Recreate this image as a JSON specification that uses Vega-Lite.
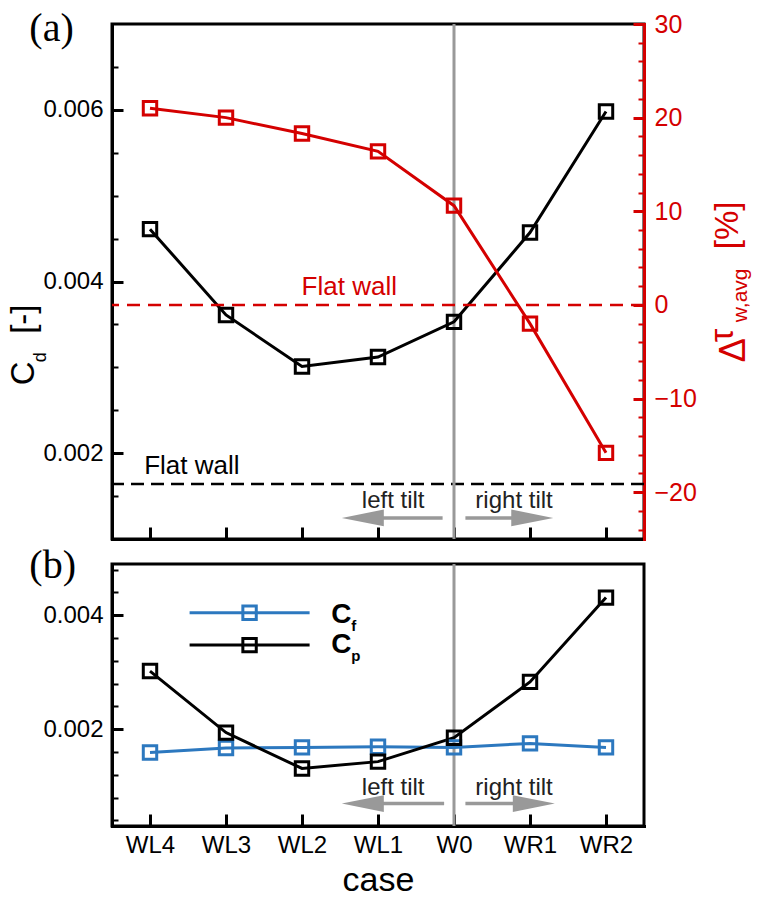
{
  "$schema": "https://vega.github.io/schema/vega-lite/v6.json",
  "padding": {"left": 6, "top": 7, "right": 0, "bottom": 0},
  "background": "white",
  "spacing": -1,
  "config": {
    "view": {"stroke": "black", "strokeWidth": 3},
    "font": "Liberation Sans",
    "axis": {"grid": false, "domainColor": "black", "domainWidth": 3, "tickColor": "black", "labelFont": "Liberation Sans", "labelFontSize": 24, "labelColor": "black", "labelFlush": false, "labelOverlap": false, "tickCap": "butt", "domainCap": "square"}
  },
  "datasets": {
    "top": [
      {"case": "WL4", "i": 0, "Cd": 0.00461, "dtau": 21.0},
      {"case": "WL3", "i": 1, "Cd": 0.00361, "dtau": 20.0},
      {"case": "WL2", "i": 2, "Cd": 0.00301, "dtau": 18.3},
      {"case": "WL1", "i": 3, "Cd": 0.00312, "dtau": 16.4},
      {"case": "W0", "i": 4, "Cd": 0.00353, "dtau": 10.6},
      {"case": "WR1", "i": 5, "Cd": 0.00457, "dtau": -2.0},
      {"case": "WR2", "i": 6, "Cd": 0.00598, "dtau": -15.8}
    ],
    "bottom": [
      {"case": "WL4", "i": 0, "series": "Cf", "value": 0.00159},
      {"case": "WL3", "i": 1, "series": "Cf", "value": 0.00167},
      {"case": "WL2", "i": 2, "series": "Cf", "value": 0.00168},
      {"case": "WL1", "i": 3, "series": "Cf", "value": 0.00169},
      {"case": "W0", "i": 4, "series": "Cf", "value": 0.00168},
      {"case": "WR1", "i": 5, "series": "Cf", "value": 0.00175},
      {"case": "WR2", "i": 6, "series": "Cf", "value": 0.00168},
      {"case": "WL4", "i": 0, "series": "Cp", "value": 0.00302},
      {"case": "WL3", "i": 1, "series": "Cp", "value": 0.00194},
      {"case": "WL2", "i": 2, "series": "Cp", "value": 0.00131},
      {"case": "WL1", "i": 3, "series": "Cp", "value": 0.00143},
      {"case": "W0", "i": 4, "series": "Cp", "value": 0.00185},
      {"case": "WR1", "i": 5, "series": "Cp", "value": 0.00283},
      {"case": "WR2", "i": 6, "series": "Cp", "value": 0.00431}
    ],
    "one": [{}]
  },
  "vconcat": [
    {
      "width": 532,
      "height": 515,
      "resolve": {"scale": {"y": "independent"}, "axis": {"y": "independent"}},
      "layer": [
        {
          "layer": [
            {"data": {"name": "one"}, "mark": {"type": "rule", "color": "black", "strokeWidth": 2.5, "strokeDash": [13, 7]},
             "encoding": {"y": {"datum": 0.00164, "type": "quantitative"}}},
            {"data": {"name": "one"}, "mark": {"type": "rule", "color": "#999999", "strokeWidth": 3},
             "encoding": {"x": {"datum": 4, "type": "quantitative"}}},
            {"data": {"name": "one"}, "mark": {"type": "rule", "color": "#999999", "strokeWidth": 3.5},
             "encoding": {"x": {"datum": 3.85, "type": "quantitative"}, "x2": {"datum": 2.8}, "y": {"datum": 0.001245, "type": "quantitative"}}},
            {"data": {"name": "one"}, "mark": {"type": "rule", "color": "#999999", "strokeWidth": 3.5},
             "encoding": {"x": {"datum": 4.15, "type": "quantitative"}, "x2": {"datum": 5.03}, "y": {"datum": 0.001245, "type": "quantitative"}}},
            {"data": {"name": "one"}, "mark": {"type": "point", "shape": "M-1,0L1,-0.4L1,0.4Z", "size": 1764, "filled": true, "color": "#999999", "opacity": 1, "strokeWidth": 0},
             "encoding": {"x": {"datum": 2.8, "type": "quantitative"}, "y": {"datum": 0.001245, "type": "quantitative"}}},
            {"data": {"name": "one"}, "mark": {"type": "point", "shape": "M1,0L-1,-0.4L-1,0.4Z", "size": 1764, "filled": true, "color": "#999999", "opacity": 1, "strokeWidth": 0},
             "encoding": {"x": {"datum": 5.03, "type": "quantitative"}, "y": {"datum": 0.001245, "type": "quantitative"}}},
            {"data": {"name": "one"}, "mark": {"type": "text", "text": "left tilt", "fontSize": 24, "color": "#222222", "align": "center", "baseline": "alphabetic"},
             "encoding": {"x": {"datum": 3.2, "type": "quantitative"}, "y": {"datum": 0.001358, "type": "quantitative"}}},
            {"data": {"name": "one"}, "mark": {"type": "text", "text": "right tilt", "fontSize": 24, "color": "#222222", "align": "center", "baseline": "alphabetic"},
             "encoding": {"x": {"datum": 4.79, "type": "quantitative"}, "y": {"datum": 0.001358, "type": "quantitative"}}},
            {"data": {"name": "one"}, "mark": {"type": "text", "text": "Flat wall", "fontSize": 26, "color": "black", "align": "center", "baseline": "alphabetic"},
             "encoding": {"x": {"datum": 0.55, "type": "quantitative"}, "y": {"datum": 0.001758, "type": "quantitative"}}},
            {"data": {"name": "one"}, "mark": {"type": "text", "text": "(a)", "font": "Liberation Serif", "fontSize": 40, "color": "black", "align": "left", "baseline": "alphabetic"},
             "encoding": {"x": {"datum": -1.588, "type": "quantitative"}, "y": {"datum": 0.006802, "type": "quantitative"}}},
            {"data": {"name": "one"}, "mark": {"type": "text", "text": "C", "fontSize": 33, "color": "black", "align": "left", "baseline": "alphabetic", "angle": 270},
             "encoding": {"x": {"datum": -1.522, "type": "quantitative"}, "y": {"datum": 0.002792, "type": "quantitative"}}},
            {"data": {"name": "one"}, "mark": {"type": "text", "text": "d", "fontSize": 18, "color": "black", "align": "left", "baseline": "alphabetic", "angle": 270},
             "encoding": {"x": {"datum": -1.364, "type": "quantitative"}, "y": {"datum": 0.00306, "type": "quantitative"}}},
            {"data": {"name": "one"}, "mark": {"type": "text", "text": "[-]", "fontSize": 33, "color": "black", "align": "left", "baseline": "alphabetic", "angle": 270},
             "encoding": {"x": {"datum": -1.522, "type": "quantitative"}, "y": {"datum": 0.00339, "type": "quantitative"}}},
            {"data": {"name": "one"}, "mark": {"type": "text", "text": "Δ", "fontSize": 36, "color": "#d40000", "align": "left", "baseline": "alphabetic", "angle": 270},
             "encoding": {"x": {"datum": 7.829, "type": "quantitative"}, "y": {"datum": 0.00306, "type": "quantitative"}}},
            {"data": {"name": "one"}, "mark": {"type": "text", "text": "τ", "fontSize": 34, "color": "#d40000", "align": "left", "baseline": "alphabetic", "angle": 270},
             "encoding": {"x": {"datum": 7.675, "type": "quantitative"}, "y": {"datum": 0.003293, "type": "quantitative"}}},
            {"data": {"name": "one"}, "mark": {"type": "text", "text": "w,avg", "fontSize": 21, "color": "#d40000", "align": "left", "baseline": "alphabetic", "angle": 270},
             "encoding": {"x": {"datum": 7.859, "type": "quantitative"}, "y": {"datum": 0.003526, "type": "quantitative"}}},
            {"data": {"name": "one"}, "mark": {"type": "text", "text": "[%]", "fontSize": 33, "color": "#d40000", "align": "left", "baseline": "alphabetic", "angle": 270},
             "encoding": {"x": {"datum": 7.737, "type": "quantitative"}, "y": {"datum": 0.004377, "type": "quantitative"}}},
            {"data": {"name": "top"}, "mark": {"type": "line", "color": "black", "strokeWidth": 3},
             "encoding": {
               "x": {"field": "i", "type": "quantitative", "scale": {"domain": [-0.5, 6.5], "nice": false, "zero": false},
                     "axis": {"title": null, "values": [0, 1, 2, 3, 4, 5, 6], "tickCount": 100, "labels": false, "tickSize": -12, "tickWidth": 3, "labelOverlap": false}},
               "y": {"field": "Cd", "type": "quantitative", "scale": {"domain": [0.001, 0.007], "nice": false, "zero": false},
                     "axis": {"orient": "left", "title": null, "labelOverlap": false, "tickCount": 100,
                              "values": [0.0015, 0.002, 0.0025, 0.003, 0.0035, 0.004, 0.0045, 0.005, 0.0055, 0.006, 0.0065],
                              "tickSize": {"condition": {"test": "abs(datum.value*500-round(datum.value*500))<1e-6", "value": -11}, "value": -6},
                              "tickWidth": {"condition": {"test": "abs(datum.value*500-round(datum.value*500))<1e-6", "value": 3}, "value": 2},
                              "labelExpr": "abs(datum.value*500-round(datum.value*500))<1e-6 ? format(datum.value, '.3f') : ''",
                              "labelPadding": 20}}
             }},
            {"data": {"name": "top"}, "mark": {"type": "point", "shape": "square", "size": 180, "filled": false, "color": "black", "strokeWidth": 3, "opacity": 1},
             "encoding": {"x": {"field": "i", "type": "quantitative"}, "y": {"field": "Cd", "type": "quantitative"}}}
          ]
        },
        {
          "layer": [
            {"data": {"name": "one"}, "mark": {"type": "rule", "color": "#d40000", "strokeWidth": 2.5, "strokeDash": [13, 8]},
             "encoding": {"y": {"datum": 0, "type": "quantitative"}}},
            {"data": {"name": "one"}, "mark": {"type": "text", "text": "Flat wall", "fontSize": 26, "color": "#d40000", "align": "center", "baseline": "alphabetic"},
             "encoding": {"x": {"datum": 2.622, "type": "quantitative"}, "y": {"datum": 1.04, "type": "quantitative"}}},
            {"data": {"name": "top"}, "mark": {"type": "line", "color": "#d40000", "strokeWidth": 3},
             "encoding": {
               "x": {"field": "i", "type": "quantitative"},
               "y": {"field": "dtau", "type": "quantitative", "scale": {"domain": [-25, 30], "nice": false, "zero": false},
                     "axis": {"orient": "right", "title": null, "labelOverlap": false, "tickCount": 100,
                              "values": [-24, -22, -20, -18, -16, -14, -12, -10, -8, -6, -4, -2, 0, 2, 4, 6, 8, 10, 12, 14, 16, 18, 20, 22, 24, 26, 28, 30],
                              "domainColor": "#d40000", "tickColor": "#d40000", "labelColor": "#d40000", "labelFontSize": 25,
                              "tickSize": {"condition": {"test": "abs(datum.value/10-round(datum.value/10))<1e-6", "value": -11}, "value": -6},
                              "tickWidth": {"condition": {"test": "abs(datum.value/10-round(datum.value/10))<1e-6", "value": 3}, "value": 2},
                              "labelExpr": "abs(datum.value/10-round(datum.value/10))<1e-6 ? format(datum.value, 'd') : ''",
                              "labelPadding": 21}}
             }},
            {"data": {"name": "top"}, "mark": {"type": "point", "shape": "square", "size": 180, "filled": false, "color": "#d40000", "strokeWidth": 3, "opacity": 1},
             "encoding": {"x": {"field": "i", "type": "quantitative"}, "y": {"field": "dtau", "type": "quantitative"}}}
          ]
        }
      ]
    },
    {
      "width": 532,
      "height": 262,
      "layer": [
        {"data": {"name": "one"}, "mark": {"type": "rule", "color": "#999999", "strokeWidth": 3},
         "encoding": {"x": {"datum": 4, "type": "quantitative"}}},
        {"data": {"name": "one"}, "mark": {"type": "rule", "color": "#999999", "strokeWidth": 3.5},
         "encoding": {"x": {"datum": 3.87, "type": "quantitative"}, "x2": {"datum": 2.8}, "y": {"datum": 0.000694, "type": "quantitative"}}},
        {"data": {"name": "one"}, "mark": {"type": "rule", "color": "#999999", "strokeWidth": 3.5},
         "encoding": {"x": {"datum": 4.15, "type": "quantitative"}, "x2": {"datum": 5.05}, "y": {"datum": 0.000694, "type": "quantitative"}}},
        {"data": {"name": "one"}, "mark": {"type": "point", "shape": "M-1,0L1,-0.4L1,0.4Z", "size": 1764, "filled": true, "color": "#999999", "opacity": 1, "strokeWidth": 0},
         "encoding": {"x": {"datum": 2.8, "type": "quantitative"}, "y": {"datum": 0.000694, "type": "quantitative"}}},
        {"data": {"name": "one"}, "mark": {"type": "point", "shape": "M1,0L-1,-0.4L-1,0.4Z", "size": 1764, "filled": true, "color": "#999999", "opacity": 1, "strokeWidth": 0},
         "encoding": {"x": {"datum": 5.05, "type": "quantitative"}, "y": {"datum": 0.000694, "type": "quantitative"}}},
        {"data": {"name": "one"}, "mark": {"type": "text", "text": "left tilt", "fontSize": 24, "color": "#222222", "align": "center", "baseline": "alphabetic"},
         "encoding": {"x": {"datum": 3.2, "type": "quantitative"}, "y": {"datum": 0.00084, "type": "quantitative"}}},
        {"data": {"name": "one"}, "mark": {"type": "text", "text": "right tilt", "fontSize": 24, "color": "#222222", "align": "center", "baseline": "alphabetic"},
         "encoding": {"x": {"datum": 4.79, "type": "quantitative"}, "y": {"datum": 0.00084, "type": "quantitative"}}},
        {"data": {"name": "one"}, "mark": {"type": "text", "text": "(b)", "font": "Liberation Serif", "fontSize": 40, "color": "black", "align": "left", "baseline": "alphabetic"},
         "encoding": {"x": {"datum": -1.588, "type": "quantitative"}, "y": {"datum": 0.004654, "type": "quantitative"}}},
        {"data": {"name": "one"}, "mark": {"type": "rule", "color": "#2c78bf", "strokeWidth": 3},
         "encoding": {"x": {"datum": 0.521, "type": "quantitative"}, "x2": {"datum": 2.1}, "y": {"datum": 0.004044, "type": "quantitative"}}},
        {"data": {"name": "one"}, "mark": {"type": "point", "shape": "square", "size": 180, "filled": false, "color": "#2c78bf", "strokeWidth": 3, "opacity": 1},
         "encoding": {"x": {"datum": 1.31, "type": "quantitative"}, "y": {"datum": 0.004044, "type": "quantitative"}}},
        {"data": {"name": "one"}, "mark": {"type": "rule", "color": "black", "strokeWidth": 3},
         "encoding": {"x": {"datum": 0.521, "type": "quantitative"}, "x2": {"datum": 2.1}, "y": {"datum": 0.003476, "type": "quantitative"}}},
        {"data": {"name": "one"}, "mark": {"type": "point", "shape": "square", "size": 180, "filled": false, "color": "black", "strokeWidth": 3, "opacity": 1},
         "encoding": {"x": {"datum": 1.31, "type": "quantitative"}, "y": {"datum": 0.003476, "type": "quantitative"}}},
        {"data": {"name": "one"}, "mark": {"type": "text", "text": "C", "fontSize": 28, "fontWeight": "bold", "color": "black", "align": "left", "baseline": "alphabetic"},
         "encoding": {"x": {"datum": 2.385, "type": "quantitative"}, "y": {"datum": 0.003863, "type": "quantitative"}}},
        {"data": {"name": "one"}, "mark": {"type": "text", "text": "f", "fontSize": 15, "fontWeight": "bold", "color": "black", "align": "left", "baseline": "alphabetic"},
         "encoding": {"x": {"datum": 2.648, "type": "quantitative"}, "y": {"datum": 0.003722, "type": "quantitative"}}},
        {"data": {"name": "one"}, "mark": {"type": "text", "text": "C", "fontSize": 28, "fontWeight": "bold", "color": "black", "align": "left", "baseline": "alphabetic"},
         "encoding": {"x": {"datum": 2.385, "type": "quantitative"}, "y": {"datum": 0.00333, "type": "quantitative"}}},
        {"data": {"name": "one"}, "mark": {"type": "text", "text": "p", "fontSize": 15, "fontWeight": "bold", "color": "black", "align": "left", "baseline": "alphabetic"},
         "encoding": {"x": {"datum": 2.648, "type": "quantitative"}, "y": {"datum": 0.003195, "type": "quantitative"}}},
        {"data": {"name": "bottom"}, "mark": {"type": "line", "strokeWidth": 3},
         "encoding": {
           "x": {"field": "i", "type": "quantitative", "scale": {"domain": [-0.5, 6.5], "nice": false, "zero": false},
                 "axis": {"title": "case", "titleFontSize": 34, "titleFontWeight": "normal", "titleFont": "Liberation Sans", "titleColor": "black", "titlePadding": 6,
                          "values": [0, 1, 2, 3, 4, 5, 6], "tickCount": 100, "tickSize": -12, "tickWidth": 3, "labelPadding": 19, "labelOverlap": false,
                          "labelExpr": "['WL4','WL3','WL2','WL1','W0','WR1','WR2'][datum.value]"}},
           "y": {"field": "value", "type": "quantitative", "scale": {"domain": [0.0003, 0.0049], "nice": false, "zero": false},
                 "axis": {"orient": "left", "title": null, "labelOverlap": false, "tickCount": 100,
                          "values": [0.0004, 0.0008, 0.0012, 0.0016, 0.002, 0.0024, 0.0028, 0.0032, 0.0036, 0.004, 0.0044, 0.0048],
                          "tickSize": {"condition": {"test": "abs(datum.value*500-round(datum.value*500))<1e-6", "value": -11}, "value": -6},
                          "tickWidth": {"condition": {"test": "abs(datum.value*500-round(datum.value*500))<1e-6", "value": 3}, "value": 2},
                          "labelExpr": "abs(datum.value*500-round(datum.value*500))<1e-6 ? format(datum.value, '.3f') : ''",
                          "labelPadding": 20}},
           "color": {"field": "series", "type": "nominal", "scale": {"domain": ["Cf", "Cp"], "range": ["#2c78bf", "black"]}, "legend": null}
         }},
        {"data": {"name": "bottom"}, "mark": {"type": "point", "shape": "square", "size": 180, "filled": false, "strokeWidth": 3, "opacity": 1},
         "encoding": {
           "x": {"field": "i", "type": "quantitative"},
           "y": {"field": "value", "type": "quantitative"},
           "color": {"field": "series", "type": "nominal", "legend": null}
         }}
      ]
    }
  ]
}
